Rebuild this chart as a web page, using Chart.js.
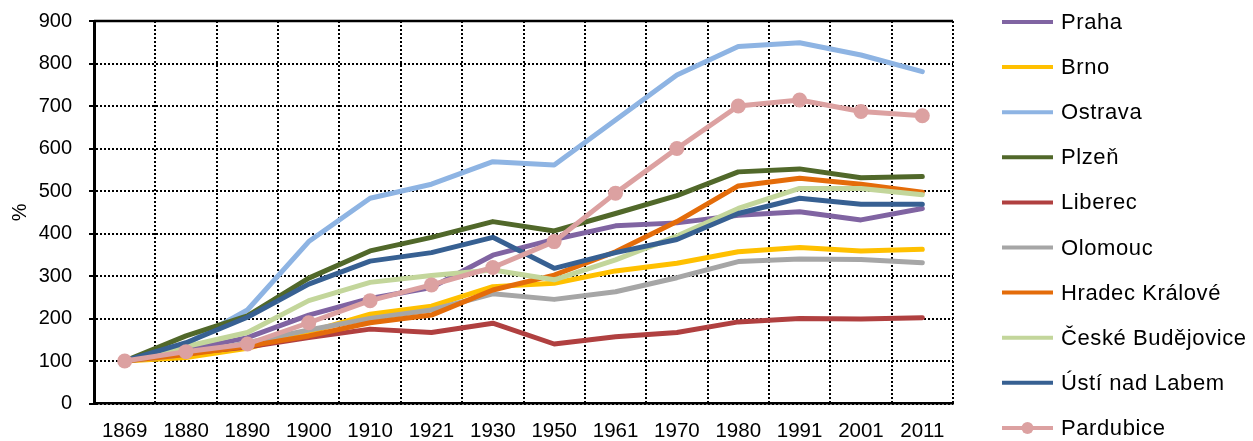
<!DOCTYPE html>
<html lang="cs">
<head>
    <meta charset="UTF-8">
    <script src="https://cdn.jsdelivr.net/npm/chart.js@4.4.0/dist/chart.umd.min.js"></script>
    <title>Vývoj počtu obyvatel</title>
    <style>
        body { margin: 0; background: #fff; }
        #chart { display: block; }
    </style>
</head>
<body>
    <canvas id="chart" width="1253" height="441"></canvas>

    <script>
        // roky scitani
        var years = ['1869', '1880', '1890', '1900', '1910', '1921', '1930', '1950', '1961', '1970', '1980', '1991', '2001', '2011'];

        // index 1869 = 100 %
        var praha     = [100, 125, 155, 208, 247, 273, 349, 386, 418, 425, 443, 451, 432, 459];
        var brno      = [100, 108, 130, 168, 210, 229, 275, 283, 312, 330, 357, 367, 359, 363];
        var ostrava   = [100, 140, 220, 381, 483, 516, 569, 561, 667, 773, 840, 849, 820, 781];
        var plzen     = [100, 159, 206, 295, 359, 391, 428, 406, 447, 489, 545, 552, 531, 534];
        var liberec   = [100, 118, 133, 155, 175, 167, 189, 140, 157, 167, 192, 200, 199, 202];
        var olomouc   = [100, 115, 143, 173, 200, 220, 258, 245, 263, 296, 334, 340, 339, 331];
        var hradec    = [100, 115, 135, 159, 190, 208, 267, 302, 357, 428, 512, 530, 516, 497];
        var budejovice= [100, 134, 167, 242, 285, 301, 314, 291, 338, 394, 459, 506, 506, 491];
        var usti      = [100, 143, 203, 281, 335, 355, 391, 318, 355, 386, 447, 483, 469, 469];
        var pardubice = [100, 122, 140, 190, 242, 279, 320, 381, 495, 600, 700, 714, 687, 677];

        var names  = ['Praha', 'Brno', 'Ostrava', 'Plzeň', 'Liberec', 'Olomouc', 'Hradec Králové', 'České Budějovice', 'Ústí nad Labem', 'Pardubice'];
        var series = [praha, brno, ostrava, plzen, liberec, olomouc, hradec, budejovice, usti, pardubice];
        var colors = ['#8064A2', '#FFC000', '#8EB4E3', '#51682A', '#B04040', '#A6A6A6', '#E46C0A', '#C3D69B', '#376092', '#DCA1A1'];

        Chart.defaults.font.family = "'Liberation Sans', Arial, sans-serif";
        Chart.defaults.font.size = 20;
        Chart.defaults.color = '#000';

        var datasets = series.map(function (s, i) {
            var marker = names[i] === 'Pardubice';
            return {
                label: names[i],
                data: s,
                borderColor: colors[i],
                backgroundColor: colors[i],
                borderWidth: 5,
                borderCapStyle: 'round',
                borderJoinStyle: 'round',
                tension: 0,
                pointRadius: marker ? 7.5 : 0,
                pointBorderWidth: 0,
                pointHoverRadius: 0,
                order: series.length - i   // later series drawn on top, like Excel
            };
        });

        // solid top edge of the plot area
        var plotBorder = {
            id: 'plotBorder',
            beforeDatasetsDraw: function (chart) {
                var a = chart.chartArea, ctx = chart.ctx;
                ctx.save();
                ctx.strokeStyle = '#000';
                ctx.lineWidth = 2.5;
                ctx.beginPath();
                ctx.moveTo(a.left, a.top);
                ctx.lineTo(a.right, a.top);
                ctx.stroke();
                ctx.restore();
            }
        };

        // legend on the right, drawn from the datasets
        var sideLegend = {
            id: 'sideLegend',
            afterDraw: function (chart) {
                var ctx = chart.ctx;
                var x0 = chart.chartArea.right + 49;
                var len = 51;
                ctx.save();
                ctx.font = "22px 'Liberation Sans', Arial, sans-serif";
                ctx.letterSpacing = '0.6px';
                ctx.textBaseline = 'middle';
                chart.data.datasets.forEach(function (ds, i) {
                    var y = 22 + i * 45.1;
                    ctx.strokeStyle = ds.borderColor;
                    ctx.lineWidth = 4;
                    ctx.lineCap = 'butt';
                    ctx.beginPath();
                    ctx.moveTo(x0, y);
                    ctx.lineTo(x0 + len, y);
                    ctx.stroke();
                    if (ds.pointRadius > 0) {
                        ctx.fillStyle = ds.backgroundColor;
                        ctx.beginPath();
                        ctx.arc(x0 + len / 2, y, 6, 0, Math.PI * 2);
                        ctx.fill();
                    }
                    ctx.fillStyle = '#000';
                    ctx.fillText(ds.label, x0 + len + 8, y + 1);
                });
                ctx.restore();
            }
        };

        var ctx = document.getElementById('chart').getContext('2d');
        var chart = new Chart(ctx, {
            type: 'line',
            data: { labels: years, datasets: datasets },
            options: {
                responsive: false,
                animation: false,
                layout: { padding: { top: 21, right: 300, bottom: 0, left: 0 } },
                plugins: {
                    legend: { display: false },
                    tooltip: { enabled: false }
                },
                scales: {
                    x: {
                        offset: true,
                        grid: {
                            offset: true,
                            color: '#000',
                            lineWidth: 2,
                            drawTicks: false
                        },
                        border: { display: true, color: '#000', width: 2.5, dash: [2, 2] },
                        ticks: { padding: 16, maxRotation: 0, autoSkip: false, font: { size: 20.5 } },
                        afterFit: function (scale) { scale.height = 37.5; }
                    },
                    y: {
                        min: 0,
                        max: 900,
                        ticks: { stepSize: 100, padding: 17 },
                        grid: {
                            color: '#000',
                            lineWidth: 2,
                            tickLength: 5,
                            tickBorderDash: []
                        },
                        border: { display: true, color: '#000', width: 3, dash: [2, 2] },
                        title: { display: true, text: '%', padding: { top: 8, bottom: 0 } },
                        afterFit: function (scale) {
                            scale.width = 94;
                            // label overhang is not wanted, plot top sits at 21 px
                            scale.paddingTop = 0;
                            scale.paddingBottom = 0;
                        }
                    }
                }
            },
            plugins: [plotBorder, sideLegend]
        });
    </script>
</body>
</html>
